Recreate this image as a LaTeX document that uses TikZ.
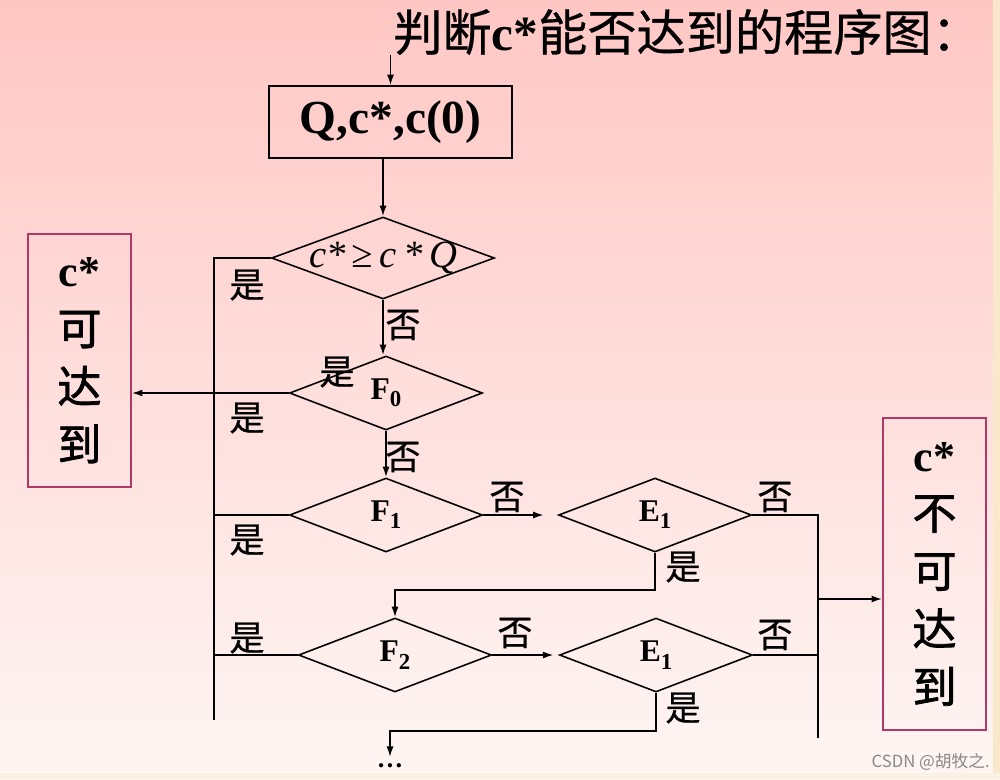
\documentclass[tikz,border=0pt]{standalone}
\usepackage{fontspec}
\setmainfont{Liberation Serif}
\newfontfamily\cjk{Noto Sans CJK SC}
\newfontfamily\cjkb{Noto Sans CJK SC}[FakeBold=0.6]
\newfontfamily\cjkh{Noto Sans CJK SC}[FakeBold=1.8]
\definecolor{bgtop}{RGB}{255, 199, 196}
\definecolor{bgbottom}{RGB}{254, 246, 244}
\definecolor{frame}{RGB}{178, 56, 104}
\definecolor{edge}{RGB}{250, 232, 205}
\definecolor{mark}{RGB}{135, 135, 135}
\newcommand{\lowidx}[1]{\raisebox{-0.5ex}{\fontsize{13}{13}\selectfont #1}}
\newcommand{\han}[1]{{\cjkh\mdseries #1}}
\usetikzlibrary{shapes.geometric, arrows.meta, positioning, calc}

\begin{document}
\begin{tikzpicture}[x=0.02cm, y=-0.02cm,
            box/.style={draw, line width=0.9pt, minimum width=4.86cm, minimum height=1.44cm, inner sep=0pt, font=\bfseries\fontsize{27}{30}\selectfont},
            result/.style={draw=frame, line width=1.1pt, minimum width=2.06cm, inner sep=0pt, align=center, font=\bfseries\fontsize{25}{33}\selectfont},
            decision/.style={diamond, draw, line width=0.9pt, inner sep=0pt, minimum width=3.86cm, minimum height=1.48cm, font=\bfseries\fontsize{18}{18}\selectfont},
            lab/.style={inner sep=0pt, font=\cjkb\fontsize{20}{20}\selectfont},
            wire/.style={line width=0.9pt},
            arr/.style={-{Latex[length=6pt, width=4pt]}, line width=0.9pt}
        ]
            % background
            \useasboundingbox (0,0) rectangle (1000,779);
            \shade[top color=bgtop, bottom color=bgbottom] (0,0) rectangle (1000,779);
            \fill[edge] (993,0) rectangle (1000,779);
            \fill[edge!60!white] (0,773) rectangle (1000,779);

            \node[anchor=west, inner sep=0pt, font=\cjkb\fontsize{28}{28}\selectfont] (title) at (393,32) {判断{\rmfamily\bfseries c*}能否达到的程序图：};
            \node[box] (start) at (390.5,122) {Q,c*,c(0)};
            \node[decision, minimum width=4.46cm, minimum height=1.64cm, font=\itshape\fontsize{22}{22}\selectfont] (d0) at (383,258) {\makebox[0pt]{c*\,≥\,c\,*\,Q}};
            \node[decision] (f0) at (386,393) {\makebox[0pt]{F\lowidx{0}}};
            \node[decision] (f1) at (386,515) {\makebox[0pt]{F\lowidx{1}}};
            \node[decision] (e1a) at (655,515) {\makebox[0pt]{E\lowidx{1}}};
            \node[decision] (f2) at (395,655) {\makebox[0pt]{F\lowidx{2}}};
            \node[decision] (e1b) at (656,655) {\makebox[0pt]{E\lowidx{1}}};
            \node[result, minimum height=5.06cm] (reach) at (79.5,360.5) {c*\\\han{可}\\\han{达}\\\han{到}};
            \node[result, minimum height=6.24cm] (unreach) at (934.5,574) {c*\\\han{不}\\\han{可}\\\han{达}\\\han{到}};
            \node[anchor=north, inner sep=0pt, text height=6pt, font=\bfseries\fontsize{15}{15}\selectfont] (more) at (390,757) {…};
            \coordinate (ybus) at (214,720);
            \coordinate (nbus) at (818,738);
            \coordinate (join) at (818,599);

            % yes / no labels
            \node[lab] (y0) at (247,285) {是};
            \node[lab] (n0) at (403,325) {否};
            \node[lab] (yf0a) at (337,372) {是};
            \node[lab] (yf0b) at (247,418) {是};
            \node[lab] (nf0) at (403,457) {否};
            \node[lab] (yf1) at (247,540) {是};
            \node[lab] (nf1) at (507,497) {否};
            \node[lab] (ne1a) at (775,497) {否};
            \node[lab] (ye1a) at (683,567) {是};
            \node[lab] (yf2) at (247,638) {是};
            \node[lab] (nf2) at (515,633) {否};
            \node[lab] (ne1b) at (775,635) {否};
            \node[lab] (ye1b) at (683,708) {是};

            \draw[arr] (start.north |- title.south) -- (start.north);
            \draw[arr] (d0.north |- start.south) -- (d0.north);
            \draw[arr] (d0.south) -- (d0.south |- f0.north);
            \draw[arr] (f0.south) -- (f0.south |- f1.north);
            \draw[wire] (d0.west) -| (ybus);
            \draw[arr] (f0.west) -- (f0.west -| reach.east);
            \draw[wire] (f1.west) -- (f1.west -| ybus);
            \draw[wire] (f2.west) -- (f2.west -| ybus);
            \draw[arr, shorten >=8pt] (f1.east) -- (e1a.west);
            \draw[arr, shorten >=3pt] (f2.east) -- (e1b.west);
            \draw[wire] (e1a.east) -| (nbus);
            \draw[wire] (e1b.east) -- (e1b.east -| nbus);
            \draw[arr] (join) -- (join -| unreach.west);
            \draw[arr] (e1a.south) -- ++(0,37) -| (f2.north);
            \draw[arr] (e1b.south) -- ++(0,38) -| (more.north);

            \node[anchor=east, inner sep=0pt, text=mark, font=\cjk\fontsize{9.5}{9.5}\selectfont] (credit) at (990,762) {CSDN @胡牧之.};
        \end{tikzpicture}
\end{document}
